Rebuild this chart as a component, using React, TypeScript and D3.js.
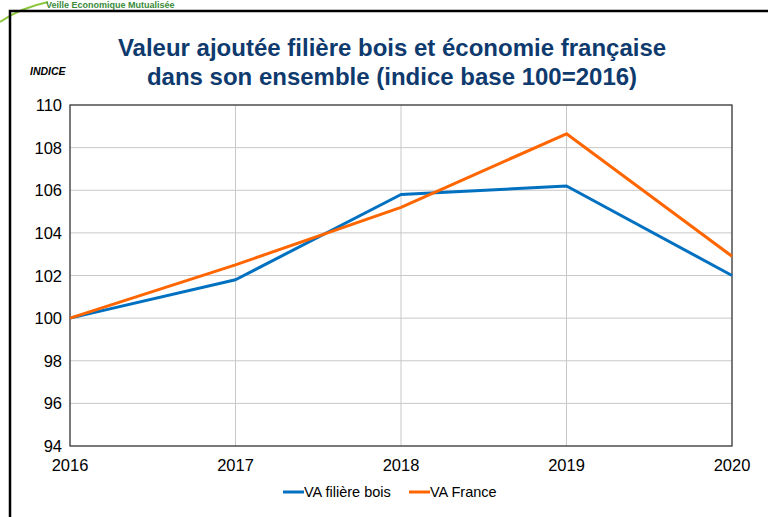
import React, { useEffect, useRef } from "react";
import * as d3 from "d3";

const years = [2016, 2017, 2018, 2019, 2020];
const vaBois = [100, 101.8, 105.8, 106.2, 102.0];
const vaFrance = [100, 102.5, 105.2, 108.65, 102.9];
const yTicks = [94, 96, 98, 100, 102, 104, 106, 108, 110];
const seriesNames = ["VA filière bois", "VA France"];
const seriesColors = ["#0070C0", "#FF6600"];

const W = 768, H = 517;

export default function App() {
  const ref = useRef<SVGSVGElement>(null);

  useEffect(() => {
    const svg = d3.select(ref.current);
    svg.selectAll("*").remove();
    const font = "Arial, 'Liberation Sans', sans-serif";

    // header remnant
    svg.append("path")
      .attr("d", "M0,22 Q20,8 48,2")
      .attr("fill", "none").attr("stroke", "#8dc63f").attr("stroke-width", 2);
    svg.append("text")
      .attr("x", 46).attr("y", 8)
      .attr("font-family", font).attr("font-size", 9).attr("font-weight", "bold")
      .attr("fill", "#3a8a3a")
      .text("Veille Economique Mutualisée");

    // outer frame
    svg.append("path")
      .attr("d", `M10,${H} L10,11 L${W},11`)
      .attr("fill", "none").attr("stroke", "#000").attr("stroke-width", 2.5);

    const x = d3.scaleLinear().domain([2016, 2020]).range([70, 732]);
    const y = d3.scaleLinear().domain([94, 110]).range([446, 105]);

    const g = svg.append("g");
    // grid
    g.selectAll("line.hg").data(yTicks).enter().append("line")
      .attr("x1", 70).attr("x2", 732)
      .attr("y1", d => y(d)).attr("y2", d => y(d))
      .attr("stroke", "#c8c8c8").attr("stroke-width", 1);
    g.selectAll("line.vg").data(years).enter().append("line")
      .attr("y1", 105).attr("y2", 446)
      .attr("x1", d => x(d)).attr("x2", d => x(d))
      .attr("stroke", "#c8c8c8").attr("stroke-width", 1);
    g.append("rect")
      .attr("x", 70).attr("y", 105).attr("width", 662).attr("height", 341)
      .attr("fill", "none").attr("stroke", "#333").attr("stroke-width", 1.2);

    // y labels
    g.selectAll("text.yl").data(yTicks).enter().append("text")
      .attr("x", 62).attr("y", d => y(d) + 6)
      .attr("text-anchor", "end")
      .attr("font-family", font).attr("font-size", 16.5).attr("fill", "#000")
      .text(d => d);
    // x labels
    g.selectAll("text.xl").data(years).enter().append("text")
      .attr("x", d => x(d)).attr("y", 471)
      .attr("text-anchor", "middle")
      .attr("font-family", font).attr("font-size", 16.5).attr("fill", "#000")
      .text(d => d);

    const line = d3.line<number>().x((_, i) => x(years[i])).y(d => y(d));
    [vaBois, vaFrance].forEach((s, i) => {
      g.append("path").datum(s)
        .attr("d", line)
        .attr("fill", "none").attr("stroke", seriesColors[i])
        .attr("stroke-width", 3).attr("stroke-linejoin", "round");
    });

    // title
    const t = svg.append("text")
      .attr("text-anchor", "middle")
      .attr("font-family", font).attr("font-size", 24).attr("font-weight", "bold")
      .attr("fill", "#0F3A6E");
    t.append("tspan").attr("x", 392).attr("y", 56).text("Valeur ajoutée filière bois et économie française");
    t.append("tspan").attr("x", 392).attr("y", 85).text("dans son ensemble (indice base 100=2016)");

    svg.append("text")
      .attr("x", 30).attr("y", 75)
      .attr("font-family", font).attr("font-size", 10.5).attr("font-weight", "bold").attr("font-style", "italic")
      .text("INDICE");

    // legend
    const lx = [283, 409];
    seriesNames.forEach((n, i) => {
      svg.append("line")
        .attr("x1", lx[i]).attr("x2", lx[i] + 21).attr("y1", 492).attr("y2", 492)
        .attr("stroke", seriesColors[i]).attr("stroke-width", 3);
      svg.append("text")
        .attr("x", lx[i] + 21).attr("y", 497)
        .attr("font-family", font).attr("font-size", 14.5).attr("fill", "#000")
        .text(n);
    });
  }, []);

  return (
    <div style={{ position: "absolute", left: 0, top: 0 }}>
      <svg ref={ref} width={W} height={H} style={{ display: "block", background: "#fff" }} />
    </div>
  );
}
